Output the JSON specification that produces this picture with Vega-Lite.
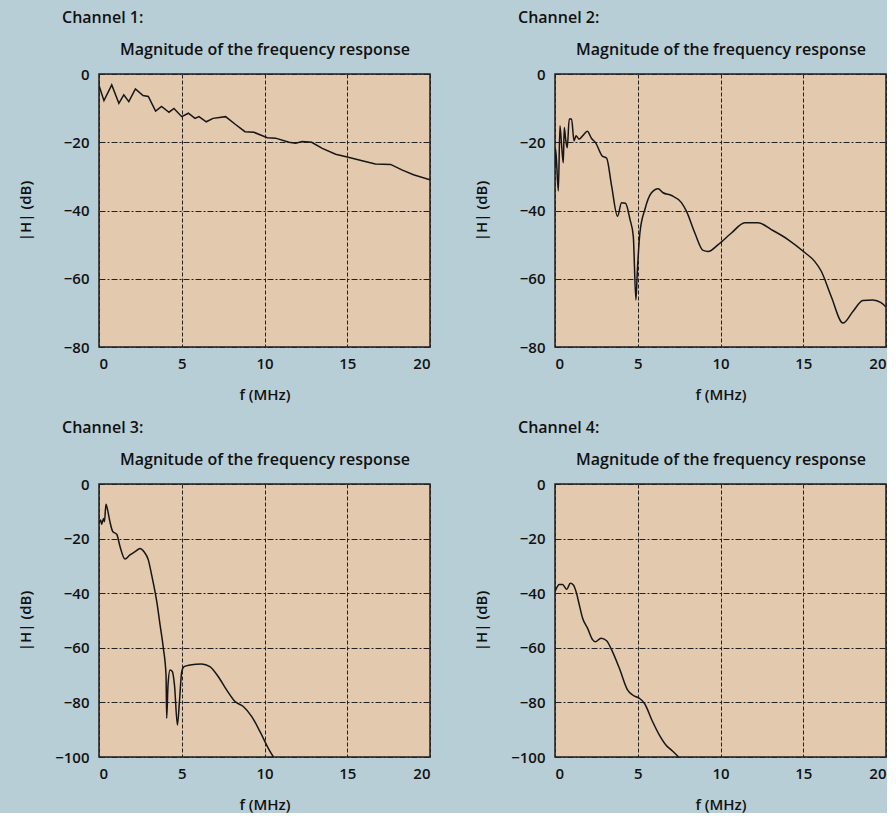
{
  "$schema": "https://vega.github.io/schema/vega-lite/v6.json",
  "background": "#b8ced6",
  "padding": {"left": 17, "top": 9, "right": 0, "bottom": 0},
  "datasets": {
    "ch1": [
      {"f":0,"dB":-3.4},{"f":0.3,"dB":-7.8},{"f":0.77,"dB":-3.2},{"f":1.2,"dB":-8.6},{"f":1.5,"dB":-6.1},{"f":1.8,"dB":-8.1},{"f":2.2,"dB":-4.4},{"f":2.66,"dB":-6.3},{"f":2.98,"dB":-6.6},{"f":3.42,"dB":-10.9},{"f":3.78,"dB":-9.5},{"f":4.23,"dB":-11.2},{"f":4.53,"dB":-10.1},{"f":5.0,"dB":-12.5},{"f":5.4,"dB":-11.5},{"f":5.8,"dB":-13.0},{"f":6.04,"dB":-12.5},{"f":6.48,"dB":-14.0},{"f":6.89,"dB":-13.0},{"f":7.65,"dB":-12.5},{"f":8.25,"dB":-14.8},{"f":8.82,"dB":-16.9},{"f":9.37,"dB":-17.1},{"f":10.17,"dB":-18.7},{"f":10.67,"dB":-18.8},{"f":11.48,"dB":-20.0},{"f":11.88,"dB":-20.3},{"f":12.28,"dB":-19.8},{"f":12.85,"dB":-20.0},{"f":13.49,"dB":-21.8},{"f":14.3,"dB":-23.5},{"f":15.0,"dB":-24.3},{"f":15.9,"dB":-25.4},{"f":16.7,"dB":-26.4},{"f":17.62,"dB":-26.5},{"f":18.3,"dB":-28.1},{"f":19.0,"dB":-29.5},{"f":20,"dB":-31.0}
    ],
    "ch2": [
      {"f":0,"dB":-27},{"f":0.04,"dB":-22},{"f":0.2,"dB":-34.3},{"f":0.3,"dB":-15.2},{"f":0.4,"dB":-21},{"f":0.5,"dB":-26},{"f":0.56,"dB":-15.7},{"f":0.64,"dB":-19},{"f":0.74,"dB":-21.6},{"f":0.86,"dB":-13.2},{"f":1.0,"dB":-13.2},{"f":1.15,"dB":-19.6},{"f":1.27,"dB":-18.1},{"f":1.45,"dB":-19.1},{"f":1.71,"dB":-17.9},{"f":1.95,"dB":-16.8},{"f":2.21,"dB":-18.9},{"f":2.45,"dB":-20.1},{"f":2.85,"dB":-24},{"f":3.12,"dB":-24.7},{"f":3.42,"dB":-32.8},{"f":3.78,"dB":-41.7},{"f":4.02,"dB":-37.7},{"f":4.26,"dB":-37.9},{"f":4.53,"dB":-42.6},{"f":4.73,"dB":-47.5},{"f":4.89,"dB":-66.2},{"f":4.97,"dB":-58.3},{"f":5.13,"dB":-46.6},{"f":5.43,"dB":-39.7},{"f":5.83,"dB":-34.8},{"f":6.23,"dB":-33.6},{"f":6.53,"dB":-34.8},{"f":7.04,"dB":-35.6},{"f":7.64,"dB":-37.7},{"f":7.94,"dB":-40.2},{"f":8.45,"dB":-46.6},{"f":8.95,"dB":-51.7},{"f":9.25,"dB":-52},{"f":9.86,"dB":-50},{"f":10.66,"dB":-46.6},{"f":11.47,"dB":-43.6},{"f":12.27,"dB":-43.6},{"f":13.07,"dB":-45.6},{"f":14.08,"dB":-48.5},{"f":15.09,"dB":-52.3},{"f":15.69,"dB":-54.9},{"f":16.09,"dB":-57.8},{"f":16.69,"dB":-65.2},{"f":17.4,"dB":-73},{"f":18.0,"dB":-69.6},{"f":18.6,"dB":-66.4},{"f":19.2,"dB":-66.2},{"f":19.7,"dB":-67},{"f":20,"dB":-68.3}
    ],
    "ch3": [
      {"f":0,"dB":-14.4},{"f":0.1,"dB":-13.2},{"f":0.16,"dB":-14.8},{"f":0.27,"dB":-12.6},{"f":0.33,"dB":-13.8},{"f":0.42,"dB":-7.4},{"f":0.52,"dB":-9.5},{"f":0.66,"dB":-13.8},{"f":0.83,"dB":-17.4},{"f":1.07,"dB":-18.4},{"f":1.27,"dB":-22.9},{"f":1.57,"dB":-27.5},{"f":1.87,"dB":-26},{"f":2.18,"dB":-24.8},{"f":2.48,"dB":-23.6},{"f":2.72,"dB":-24.8},{"f":2.98,"dB":-27.8},{"f":3.18,"dB":-33.3},{"f":3.49,"dB":-43.1},{"f":3.69,"dB":-51.6},{"f":3.89,"dB":-60.2},{"f":4.05,"dB":-70},{"f":4.09,"dB":-85.8},{"f":4.17,"dB":-73.6},{"f":4.29,"dB":-68.1},{"f":4.43,"dB":-68.7},{"f":4.56,"dB":-73.6},{"f":4.74,"dB":-88.3},{"f":4.86,"dB":-79.7},{"f":5.0,"dB":-68.7},{"f":5.14,"dB":-66.9},{"f":5.5,"dB":-66.3},{"f":6.2,"dB":-65.9},{"f":6.7,"dB":-66.9},{"f":7.21,"dB":-70.6},{"f":7.72,"dB":-75.5},{"f":8.22,"dB":-79.7},{"f":8.72,"dB":-81.5},{"f":9.23,"dB":-85.2},{"f":9.73,"dB":-90.7},{"f":10.23,"dB":-96.8},{"f":10.54,"dB":-100}
    ],
    "ch4": [
      {"f":0,"dB":-39.4},{"f":0.26,"dB":-36.8},{"f":0.46,"dB":-36.8},{"f":0.7,"dB":-38.6},{"f":0.93,"dB":-36.4},{"f":1.11,"dB":-37},{"f":1.27,"dB":-39.4},{"f":1.47,"dB":-44.3},{"f":1.67,"dB":-49.2},{"f":1.97,"dB":-52.9},{"f":2.28,"dB":-57.1},{"f":2.44,"dB":-57.8},{"f":2.78,"dB":-56.5},{"f":3.12,"dB":-57.4},{"f":3.38,"dB":-60.2},{"f":3.89,"dB":-67.5},{"f":4.39,"dB":-75.5},{"f":4.69,"dB":-77.3},{"f":5.1,"dB":-78.5},{"f":5.4,"dB":-80.3},{"f":5.9,"dB":-87.1},{"f":6.3,"dB":-91.9},{"f":6.7,"dB":-95.6},{"f":7.1,"dB":-97.8},{"f":7.47,"dB":-100}
    ]
  },
  "spacing": 16,
  "vconcat": [
    {
      "bounds": "flush",
      "spacing": 125,
      "hconcat": [
        {
          "width": 331, "height": 273,
          "title": {"text": "Channel 1:"},
          "data": {"name": "ch1"},
          "resolve": {"axis": {"x": "independent"}},
          "layer": [
            {"mark": {"type": "line", "color": "#161616", "strokeWidth": 1.5, "clip": true},
             "encoding": {
               "x": {"field": "f", "type": "quantitative", "scale": {"domain": [0, 20], "nice": false}, "axis": {"values": [0,5,10,15,20], "title": "f (MHz)", "grid": true}},
               "y": {"field": "dB", "type": "quantitative", "scale": {"domain": [-80, 0], "nice": false}, "axis": {"values": [0,-20,-40,-60,-80], "title": "|H| (dB)", "grid": true}}
             }},
            {"mark": {"type": "line", "opacity": 0},
             "encoding": {
               "x": {"field": "f", "type": "quantitative", "axis": {"orient": "top", "labels": false, "grid": false, "title": "Magnitude of the frequency response", "titleFontSize": 16, "titlePadding": 17}},
               "y": {"field": "dB", "type": "quantitative"}
             }}
          ]
        },
        {
          "width": 331, "height": 273,
          "title": {"text": "Channel 2:"},
          "data": {"name": "ch2"},
          "resolve": {"axis": {"x": "independent"}},
          "layer": [
            {"mark": {"type": "line", "color": "#161616", "strokeWidth": 1.5, "clip": true, "interpolate": "monotone"},
             "encoding": {
               "x": {"field": "f", "type": "quantitative", "scale": {"domain": [0, 20], "nice": false}, "axis": {"values": [0,5,10,15,20], "title": "f (MHz)", "grid": true}},
               "y": {"field": "dB", "type": "quantitative", "scale": {"domain": [-80, 0], "nice": false}, "axis": {"values": [0,-20,-40,-60,-80], "title": "|H| (dB)", "grid": true}}
             }},
            {"mark": {"type": "line", "opacity": 0},
             "encoding": {
               "x": {"field": "f", "type": "quantitative", "axis": {"orient": "top", "labels": false, "grid": false, "title": "Magnitude of the frequency response", "titleFontSize": 16, "titlePadding": 17}},
               "y": {"field": "dB", "type": "quantitative"}
             }}
          ]
        }
      ]
    },
    {
      "bounds": "flush",
      "spacing": 125,
      "hconcat": [
        {
          "width": 331, "height": 273,
          "title": {"text": "Channel 3:"},
          "data": {"name": "ch3"},
          "resolve": {"axis": {"x": "independent"}},
          "layer": [
            {"mark": {"type": "line", "color": "#161616", "strokeWidth": 1.5, "clip": true, "interpolate": "monotone"},
             "encoding": {
               "x": {"field": "f", "type": "quantitative", "scale": {"domain": [0, 20], "nice": false}, "axis": {"values": [0,5,10,15,20], "title": "f (MHz)", "grid": true}},
               "y": {"field": "dB", "type": "quantitative", "scale": {"domain": [-100, 0], "nice": false}, "axis": {"values": [0,-20,-40,-60,-80,-100], "title": "|H| (dB)", "grid": true}}
             }},
            {"mark": {"type": "line", "opacity": 0},
             "encoding": {
               "x": {"field": "f", "type": "quantitative", "axis": {"orient": "top", "labels": false, "grid": false, "title": "Magnitude of the frequency response", "titleFontSize": 16, "titlePadding": 17}},
               "y": {"field": "dB", "type": "quantitative"}
             }}
          ]
        },
        {
          "width": 331, "height": 273,
          "title": {"text": "Channel 4:"},
          "data": {"name": "ch4"},
          "resolve": {"axis": {"x": "independent"}},
          "layer": [
            {"mark": {"type": "line", "color": "#161616", "strokeWidth": 1.5, "clip": true, "interpolate": "monotone"},
             "encoding": {
               "x": {"field": "f", "type": "quantitative", "scale": {"domain": [0, 20], "nice": false}, "axis": {"values": [0,5,10,15,20], "title": "f (MHz)", "grid": true}},
               "y": {"field": "dB", "type": "quantitative", "scale": {"domain": [-100, 0], "nice": false}, "axis": {"values": [0,-20,-40,-60,-80,-100], "title": "|H| (dB)", "grid": true}}
             }},
            {"mark": {"type": "line", "opacity": 0},
             "encoding": {
               "x": {"field": "f", "type": "quantitative", "axis": {"orient": "top", "labels": false, "grid": false, "title": "Magnitude of the frequency response", "titleFontSize": 16, "titlePadding": 17}},
               "y": {"field": "dB", "type": "quantitative"}
             }}
          ]
        }
      ]
    }
  ],
  "config": {
    "view": {"fill": "#e3c9ae", "stroke": "#1e1e1e", "strokeWidth": 1.5},
    "axis": {
      "labelFont": "Open Sans", "labelFontSize": 15, "labelFontWeight": 600, "labelColor": "#111",
      "titleFont": "Open Sans", "titleFontSize": 15, "titleFontWeight": 600, "titleColor": "#111",
      "ticks": false, "domain": false,
      "gridColor": "#222", "gridWidth": 1, "gridOpacity": 1
    },
    "axisX": {"gridDash": [4, 2], "labelPadding": 9, "titlePadding": 16},
    "axisY": {"gridDash": [6, 2, 2, 2], "labelPadding": 10, "titleX": -66, "titleY": 136.5},
    "title": {"font": "Open Sans", "fontSize": 16, "fontWeight": 600, "color": "#111", "anchor": "start", "frame": "group", "dx": -37, "offset": 15}
  }
}
